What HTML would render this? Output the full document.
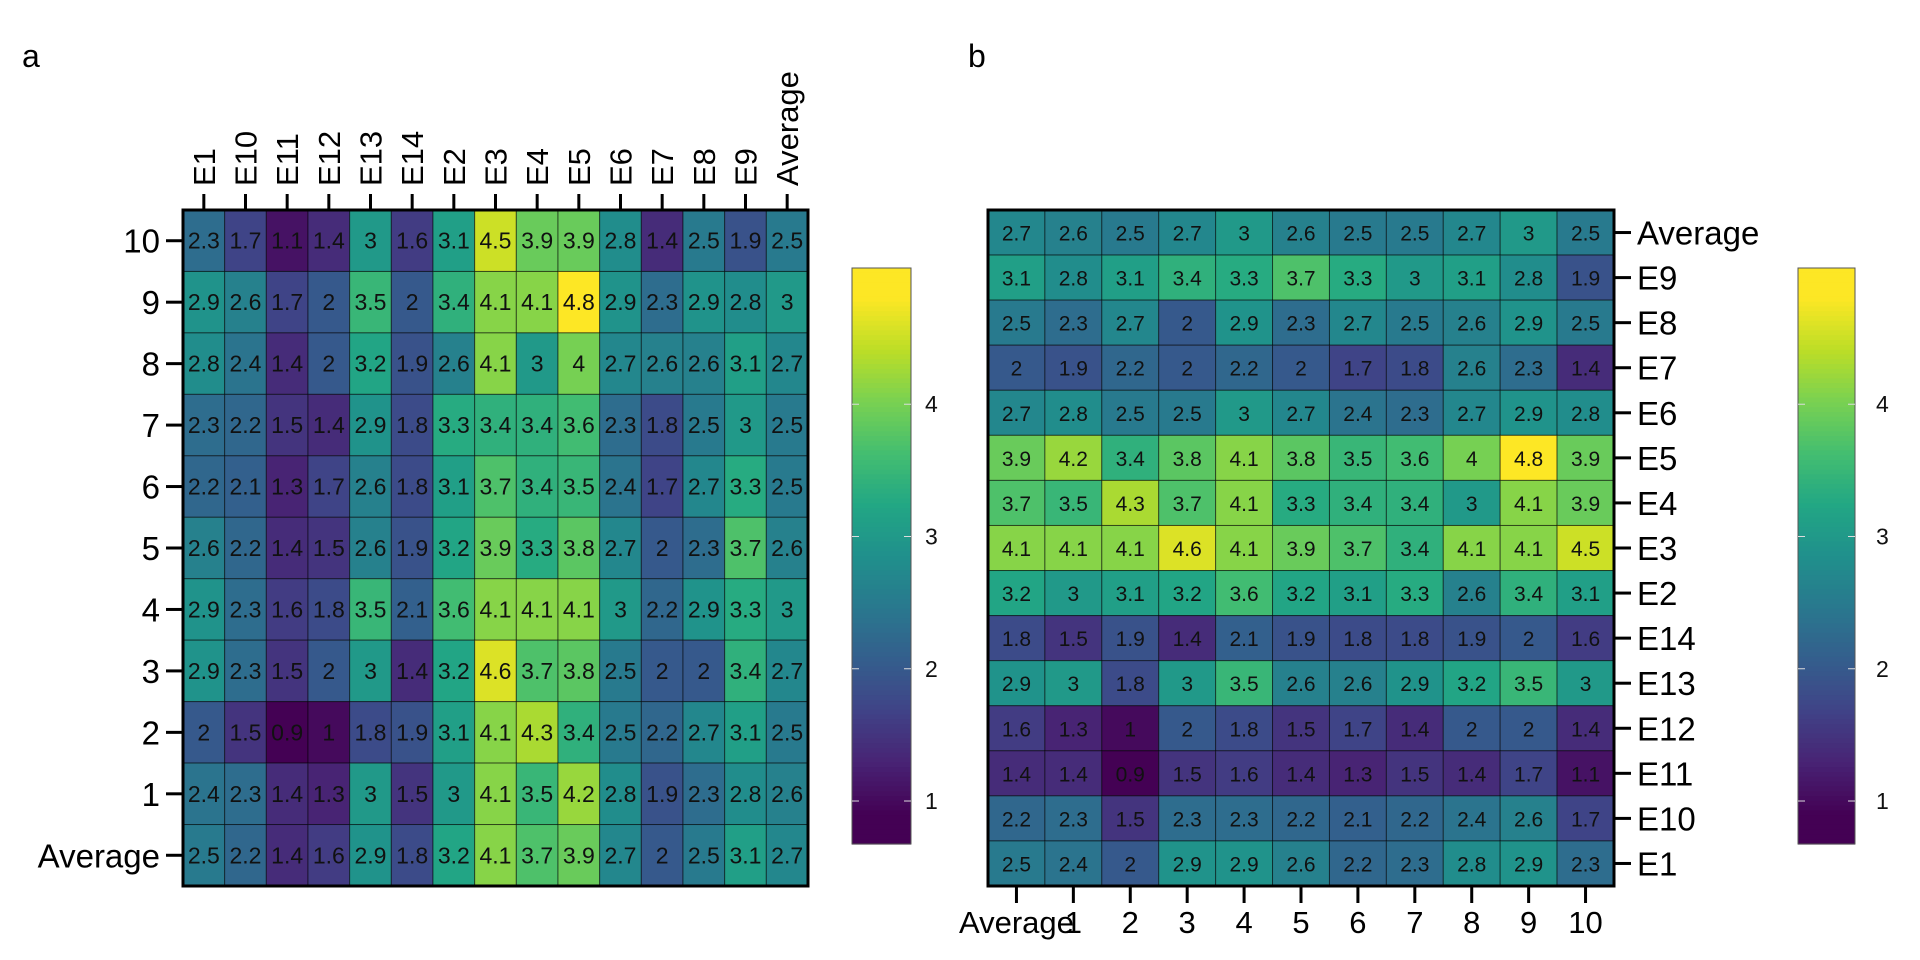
<!DOCTYPE html>
<html><head><meta charset="utf-8">
<style>
html,body{margin:0;padding:0;background:#fff;}
svg{display:block;font-family:"Liberation Sans",Arial,sans-serif;}
</style></head>
<body>
<svg id="fig" width="1920" height="960" viewBox="0 0 1920 960"></svg>
<script>
// ---- Panel a data ----
const aCols = ["E1","E10","E11","E12","E13","E14","E2","E3","E4","E5","E6","E7","E8","E9","Average"];
const aRows = ["10","9","8","7","6","5","4","3","2","1","Average"];
const aVals = [
[2.3,1.7,1.1,1.4,3,1.6,3.1,4.5,3.9,3.9,2.8,1.4,2.5,1.9,2.5],
[2.9,2.6,1.7,2,3.5,2,3.4,4.1,4.1,4.8,2.9,2.3,2.9,2.8,3],
[2.8,2.4,1.4,2,3.2,1.9,2.6,4.1,3,4,2.7,2.6,2.6,3.1,2.7],
[2.3,2.2,1.5,1.4,2.9,1.8,3.3,3.4,3.4,3.6,2.3,1.8,2.5,3,2.5],
[2.2,2.1,1.3,1.7,2.6,1.8,3.1,3.7,3.4,3.5,2.4,1.7,2.7,3.3,2.5],
[2.6,2.2,1.4,1.5,2.6,1.9,3.2,3.9,3.3,3.8,2.7,2,2.3,3.7,2.6],
[2.9,2.3,1.6,1.8,3.5,2.1,3.6,4.1,4.1,4.1,3,2.2,2.9,3.3,3],
[2.9,2.3,1.5,2,3,1.4,3.2,4.6,3.7,3.8,2.5,2,2,3.4,2.7],
[2,1.5,0.9,1,1.8,1.9,3.1,4.1,4.3,3.4,2.5,2.2,2.7,3.1,2.5],
[2.4,2.3,1.4,1.3,3,1.5,3,4.1,3.5,4.2,2.8,1.9,2.3,2.8,2.6],
[2.5,2.2,1.4,1.6,2.9,1.8,3.2,4.1,3.7,3.9,2.7,2,2.5,3.1,2.7]
];
// ---- Panel b data ----
const bCols = ["Average","1","2","3","4","5","6","7","8","9","10"];
const bRows = ["Average","E9","E8","E7","E6","E5","E4","E3","E2","E14","E13","E12","E11","E10","E1"];
const bVals = [
[2.7,2.6,2.5,2.7,3,2.6,2.5,2.5,2.7,3,2.5],
[3.1,2.8,3.1,3.4,3.3,3.7,3.3,3,3.1,2.8,1.9],
[2.5,2.3,2.7,2,2.9,2.3,2.7,2.5,2.6,2.9,2.5],
[2,1.9,2.2,2,2.2,2,1.7,1.8,2.6,2.3,1.4],
[2.7,2.8,2.5,2.5,3,2.7,2.4,2.3,2.7,2.9,2.8],
[3.9,4.2,3.4,3.8,4.1,3.8,3.5,3.6,4,4.8,3.9],
[3.7,3.5,4.3,3.7,4.1,3.3,3.4,3.4,3,4.1,3.9],
[4.1,4.1,4.1,4.6,4.1,3.9,3.7,3.4,4.1,4.1,4.5],
[3.2,3,3.1,3.2,3.6,3.2,3.1,3.3,2.6,3.4,3.1],
[1.8,1.5,1.9,1.4,2.1,1.9,1.8,1.8,1.9,2,1.6],
[2.9,3,1.8,3,3.5,2.6,2.6,2.9,3.2,3.5,3],
[1.6,1.3,1,2,1.8,1.5,1.7,1.4,2,2,1.4],
[1.4,1.4,0.9,1.5,1.6,1.4,1.3,1.5,1.4,1.7,1.1],
[2.2,2.3,1.5,2.3,2.3,2.2,2.1,2.2,2.4,2.6,1.7],
[2.5,2.4,2,2.9,2.9,2.6,2.2,2.3,2.8,2.9,2.3]
];
const cbTicks = [1,2,3,4];

const NS="http://www.w3.org/2000/svg";
const svg=document.getElementById('fig');
function mk(tag,attrs,parent){const e=document.createElementNS(NS,tag);for(const k in attrs)e.setAttribute(k,attrs[k]);(parent||svg).appendChild(e);return e;}
const VIR=[[68,1,84],[72,35,116],[64,67,135],[52,94,141],[41,120,142],[32,144,140],[34,167,132],[68,190,112],[121,209,81],[189,222,38],[253,231,37]];
function viridis(t){t=Math.max(0,Math.min(1,t));const p=t*(VIR.length-1);const i=Math.min(Math.floor(p),VIR.length-2);const f=p-i;const a=VIR[i],b=VIR[i+1];return `rgb(${Math.round(a[0]+(b[0]-a[0])*f)},${Math.round(a[1]+(b[1]-a[1])*f)},${Math.round(a[2]+(b[2]-a[2])*f)})`;}
const VMIN=0.9,VMAX=4.8;

function heatmap(cfg){
  const {x0,y0,x1,y1,cols,rows,vals,name}=cfg;
  const g=mk('g',{});
  
  
  const cw=(x1-x0)/cols.length, ch=(y1-y0)/rows.length;
  rows.forEach((r,ri)=>{cols.forEach((c,ci)=>{
    const v=vals[ri][ci];
    const rect=mk('rect',{x:x0+ci*cw,y:y0+ri*ch,width:cw,height:ch,fill:viridis((v-VMIN)/(VMAX-VMIN)),stroke:'rgba(0,0,0,0.55)','stroke-width':1},g);
    
    
    const t=mk('text',{x:x0+(ci+0.5)*cw,y:y0+(ri+0.5)*ch+8,'text-anchor':'middle','font-size':cfg.fs,fill:'#111'},g);
    t.textContent=String(v);
    
    
  });});
  mk('rect',{x:x0,y:y0,width:x1-x0,height:y1-y0,fill:'none',stroke:'#000','stroke-width':3},g);
  return {cw,ch};
}
function colorbar(x,y0,w,y1,lx,name){
  const g=mk('g',{});
  
  
  const cbMin=0.675,cbMax=5.03;
  const n=120,h=(y1-y0)/n;
  for(let i=0;i<n;i++){const v=cbMax-(i+0.5)/n*(cbMax-cbMin);mk('rect',{x:x,y:y0+i*h,width:w,height:h+0.6,fill:viridis((v-VMIN)/(VMAX-VMIN))},g);}
  mk('rect',{x:x,y:y0,width:w,height:y1-y0,fill:'none',stroke:'#555','stroke-width':1},g);
  cbTicks.forEach(tv=>{const ty=y0+(cbMax-tv)/(cbMax-cbMin)*(y1-y0);
    mk('line',{x1:x,x2:x+7,y1:ty,y2:ty,stroke:'#ddd','stroke-width':1},g);
    mk('line',{x1:x+w-7,x2:x+w,y1:ty,y2:ty,stroke:'#ddd','stroke-width':1},g);
    const t=mk('text',{x:lx,y:ty+8,'font-size':23,fill:'#111'},g);t.textContent=tv;
    
    
  });
}
// Panel a
const pa=mk('text',{x:22,y:67,'font-size':32,fill:'#000'});pa.textContent='a';

const A=heatmap({x0:183,y0:210,x1:808,y1:886,cols:aCols,rows:aRows,vals:aVals,name:'heatmap-a',fs:23});
aRows.forEach((r,i)=>{const y=210+(i+0.5)*A.ch;
  mk('line',{x1:166,x2:182,y1:y,y2:y,stroke:'#000','stroke-width':3});
  const t=mk('text',{x:160,y:y+12,'text-anchor':'end','font-size':33,fill:'#000'});t.textContent=r;
  });
aCols.forEach((c,i)=>{const x=183+(i+0.5)*A.cw;
  mk('line',{x1:x,x2:x,y1:194,y2:209,stroke:'#000','stroke-width':3});
  const t=mk('text',{x:0,y:0,'font-size':31,fill:'#000',transform:`translate(${x+11},186) rotate(-90)`});t.textContent=c;
  });
colorbar(852,268,59,844,925,'colorbar-a');
// Panel b
const pb=mk('text',{x:968,y:67,'font-size':32,fill:'#000'});pb.textContent='b';

const B=heatmap({x0:988,y0:210,x1:1614,y1:886,cols:bCols,rows:bRows,vals:bVals,name:'heatmap-b',fs:21});
bRows.forEach((r,i)=>{const y=210+(i+0.5)*B.ch;
  mk('line',{x1:1615,x2:1631,y1:y,y2:y,stroke:'#000','stroke-width':3});
  const t=mk('text',{x:1637,y:y+12,'font-size':33,fill:'#000'});t.textContent=r;
  });
bCols.forEach((c,i)=>{const x=988+(i+0.5)*B.cw;
  mk('line',{x1:x,x2:x,y1:887,y2:903,stroke:'#000','stroke-width':3});
  const t=mk('text',{x:x,y:933,'text-anchor':'middle','font-size':31,fill:'#000'});t.textContent=c;
  });
colorbar(1798,268,57,844,1876,'colorbar-b');
</script>
</body></html>
